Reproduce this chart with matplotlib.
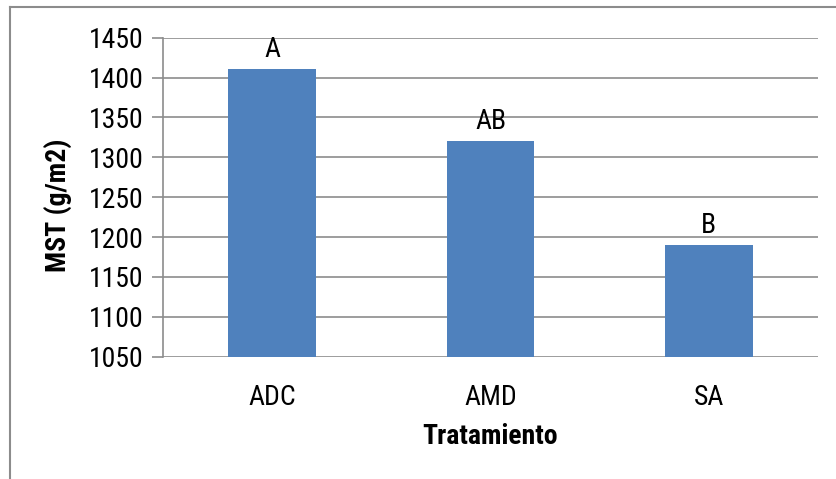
import matplotlib
matplotlib.use("Agg")
import matplotlib.pyplot as plt
from matplotlib import font_manager
from matplotlib.lines import Line2D

# Data
categories = ["ADC", "AMD", "SA"]
values = [1411, 1321, 1190]
letters = ["A", "AB", "B"]
yticks = [1050, 1100, 1150, 1200, 1250, 1300, 1350, 1400, 1450]

names = {f.name for f in font_manager.fontManager.ttflist}
family = next((n for n in ["Roboto Condensed", "Archivo Narrow", "Liberation Sans"] if n in names),
              "DejaVu Sans")
plt.rcParams["font.family"] = [family, "DejaVu Sans"]

FS = 20
fig = plt.figure(figsize=(8.36, 4.79), dpi=100)
ax = fig.add_axes([163 / 836, 1 - 356.7 / 479, (818 - 163) / 836, (356.7 - 37.7) / 479])

grid_color = "#8c8c8c"
x = range(len(categories))
ax.bar(x, [v - yticks[0] for v in values], bottom=yticks[0], width=0.4,
       color="#4F81BD", zorder=3)

for xi, v, lab in zip(x, values, letters):
    ax.text(xi, v + 7, lab, ha="center", va="bottom", fontsize=FS, color="black", zorder=4)

ax.set_xlim(-0.5, len(categories) - 0.5)
ax.set_ylim(yticks[0], yticks[-1])
ax.set_yticks(yticks)
ax.set_yticklabels([str(t) for t in yticks], fontsize=FS)
ax.set_xticks(list(x))
ax.set_xticklabels(categories, fontsize=FS)
ax.tick_params(axis="x", length=0, pad=20)
ax.tick_params(axis="y", length=8, width=1.2, color=grid_color, pad=6, direction="out")
ax.yaxis.grid(True, color=grid_color, linewidth=1.2, zorder=0)

for side in ["top", "right", "bottom"]:
    ax.spines[side].set_visible(False)
ax.spines["left"].set_color(grid_color)
ax.spines["left"].set_linewidth(1.2)
ax.spines["left"].set_zorder(5)

# Y axis title placed in figure coordinates next to the tick labels
fig.text(58 / 836, 1 - 205 / 479, "MST (g/m2)", rotation=90, ha="center", va="center",
         fontsize=FS, fontweight="bold")
ax.set_xlabel("Tratamiento", fontsize=FS, fontweight="bold", labelpad=8)

# Outer chart frame (left and top edges)
fig.add_artist(Line2D([10 / 836, 10 / 836], [0, 1 - 7 / 479], transform=fig.transFigure,
                      color=grid_color, linewidth=1.5))
fig.add_artist(Line2D([10 / 836, 1], [1 - 7 / 479, 1 - 7 / 479], transform=fig.transFigure,
                      color=grid_color, linewidth=1.5))

fig.savefig("out.png", dpi=100)
